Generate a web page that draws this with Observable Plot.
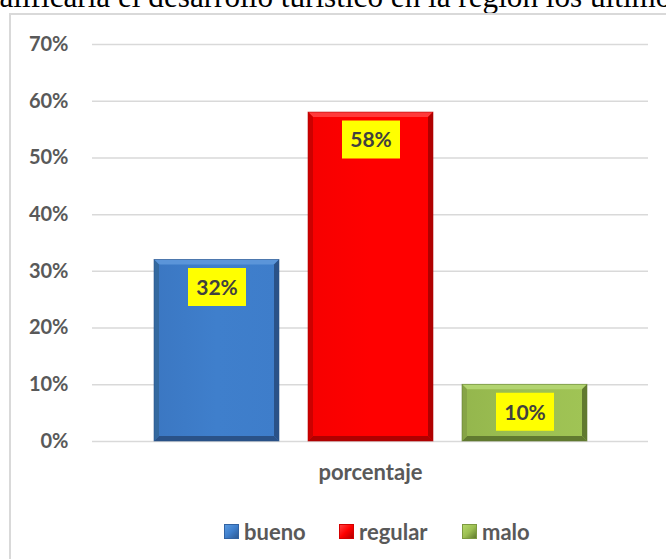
<!DOCTYPE html>
<html>
<head>
<meta charset="utf-8">
<script src="https://cdn.jsdelivr.net/npm/d3@7"></script>
<script src="https://cdn.jsdelivr.net/npm/@observablehq/plot@0.6"></script>
<style>
  html, body { margin: 0; padding: 0; background: #fff; }
  #wrap { position: relative; width: 666px; height: 559px; overflow: hidden; }
  #title { position: absolute; left: -3px; top: -18px; white-space: nowrap;
    font-family: "Liberation Serif", "DejaVu Serif", serif; font-size: 30px; color: #000; }
  #frame { position: absolute; left: 9px; top: 13px; width: 700px; height: 600px;
    border: 2px solid #d9d9d9; box-sizing: border-box; }
  #chart { position: absolute; left: 0; top: 0; }
  #legend { position: absolute; top: 518px; left: 0; width: 666px; height: 26px;
    font-family: Lato, "Open Sans", sans-serif; font-weight: bold; font-size: 22px; color: #595959; }
  .item { position: absolute; top: 0; display: flex; align-items: center; height: 26px; }
  .sw { width: 15px; height: 15px; margin-right: 5px; box-sizing: border-box; }
</style>
</head>
<body>
<div id="wrap">
  <div id="title"></div>
  <div id="frame"></div>
  <div id="chart"></div>
  <div id="legend"></div>
</div>
<script>
const titleText = "calificaría el desarrollo turístico en la región los últimos años?";
const categories = ["bueno", "regular", "malo"];
const values = [32, 58, 10];
const yTicks = [0, 10, 20, 30, 40, 50, 60, 70];
const xLabel = ["porcentaje"];
const edgeColors = ["#3263a3", "#d40000", "#7d9a40"];

const data = categories.map((c, i) => ({cat: c, value: values[i]}));

// Title: fit so that words sit where they do in the reference (partly clipped at top)
(function () {
  const el = document.getElementById("title");
  el.textContent = titleText;
  const ctx = document.createElement("canvas").getContext("2d");
  const fam = '"Liberation Serif", "DejaVu Serif", serif';
  const w = (s, fs) => { ctx.font = fs + "px " + fam; return ctx.measureText(s).width; };
  const a = "calificaría ", b = "calificaría el desarrollo turístico en la región ";
  const fs0 = 30;
  const span0 = w(b, fs0) - w(a, fs0);
  const fs = fs0 * 428 / span0;
  const left = 118 - w(a, fs);
  el.style.fontSize = fs + "px";
  el.style.lineHeight = fs + "px";
  el.style.left = left + "px";
  el.style.top = (7 - 0.8375 * fs) + "px";
})();

const font = "Lato, 'Open Sans', sans-serif";
const labelBox = {
  draw(ctx) { ctx.rect(-29, -19, 58, 38); }
};

const plot = Plot.plot({
  width: 666,
  height: 500,
  marginLeft: 92,
  marginRight: 18,
  marginTop: 44,
  marginBottom: 59,
  style: {fontFamily: font, background: "transparent", overflow: "visible"},
  x: {domain: categories, paddingInner: 0.19, paddingOuter: 0.39, axis: null},
  y: {domain: [0, 70], axis: null},
  color: {domain: categories, range: ["url(#gb)", "url(#gr)", "url(#gg)"]},
  marks: [
    Plot.ruleY(yTicks, {stroke: "#d9d9d9", strokeWidth: 1.5}),
    Plot.axisY({ticks: yTicks, tickSize: 0, tickPadding: 24, tickFormat: d => d + "%",
      fontSize: 20, fontWeight: "bold", fill: "#595959", label: null}),
    Plot.barY(data, {x: "cat", y: "value", fill: "cat", style: "filter:url(#sh)"}),
    Plot.dot(data, {x: "cat", y: "value", dy: 27, symbol: labelBox, r: 10, fill: "#ffff00", stroke: null}),
    Plot.text(data, {x: "cat", y: "value", dy: 28, text: d => d.value + "%", fontSize: 21,
      fontWeight: "bold", fill: "#404040"}),
    Plot.text(xLabel, {frameAnchor: "bottom", dy: 38, fontSize: 22, fontWeight: "bold", fill: "#595959"})
  ]
});

const svg = d3.select(plot);
const defs = svg.insert("defs", ":first-child");
function grad(id, left, mid, right) {
  const g = defs.append("linearGradient").attr("id", id).attr("x1", 0).attr("y1", 0).attr("x2", 1).attr("y2", 0);
  g.append("stop").attr("offset", "0%").attr("stop-color", left);
  g.append("stop").attr("offset", "50%").attr("stop-color", mid);
  g.append("stop").attr("offset", "100%").attr("stop-color", right);
}
grad("gb", "#3b77c2", "#3f7fcc", "#3e7dca");
grad("gr", "#f60000", "#ff0000", "#ff0000");
grad("gg", "#94b64d", "#9cbf52", "#a0c455");
const f = defs.append("filter").attr("id", "sh").attr("x", "-10%").attr("y", "-10%").attr("width", "130%").attr("height", "130%");
f.append("feDropShadow").attr("dx", 1).attr("dy", 2).attr("stdDeviation", 2).attr("flood-color", "#000").attr("flood-opacity", 0.22);

// Bevel edges on each bar: light top, dark right/bottom, medium left
const lightTop = ["#5b95d9", "#ff3a3a", "#b2d470"];
const darkRB = ["#2a5288", "#b00000", "#617a30"];
const midLeft = ["#34699f", "#cc0000", "#86a446"];
const bars = svg.selectAll("g[aria-label='bar']").nodes()[0];
d3.select(bars).selectAll("rect").each(function(d, i) {
  const r = d3.select(this);
  const x = +r.attr("x"), y = +r.attr("y"), w = +r.attr("width"), h = +r.attr("height");
  const b = 5;
  const g = d3.select(this.parentNode);
  const poly = (pts, fill) => g.append("polygon").attr("points", pts.map(p => p.join(",")).join(" ")).attr("fill", fill);
  poly([[x, y], [x + w, y], [x + w - b, y + b], [x + b, y + b]], lightTop[i]);
  poly([[x + w, y], [x + w, y + h], [x + w - b, y + h - b], [x + w - b, y + b]], darkRB[i]);
  poly([[x, y + h], [x + w, y + h], [x + w - b, y + h - b], [x + b, y + h - b]], darkRB[i]);
  poly([[x, y], [x + b, y + b], [x + b, y + h - b], [x, y + h]], midLeft[i]);
  g.append("rect").attr("x", x).attr("y", y).attr("width", w).attr("height", h)
    .attr("fill", "none").attr("stroke", darkRB[i]).attr("stroke-width", 0.8).attr("stroke-opacity", 0.7);
});

document.getElementById("chart").appendChild(plot);

// Legend
const legend = document.getElementById("legend");
const legendX = [224, 339, 462];
const swGrad = [
  "linear-gradient(135deg, #5a9ae0 0%, #3f7fcc 50%, #2d5a94 100%)",
  "linear-gradient(135deg, #ff4040 0%, #ff0000 50%, #b00000 100%)",
  "linear-gradient(135deg, #b5d86a 0%, #9cbf52 50%, #5f7a2c 100%)"
];
categories.forEach((c, i) => {
  const it = document.createElement("div");
  it.className = "item";
  it.style.left = legendX[i] + "px";
  const sw = document.createElement("div");
  sw.className = "sw";
  sw.style.background = swGrad[i];
  sw.style.border = "1px solid " + edgeColors[i];
  const tx = document.createElement("span");
  tx.textContent = c;
  it.appendChild(sw);
  it.appendChild(tx);
  legend.appendChild(it);
});
</script>
</body>
</html>
